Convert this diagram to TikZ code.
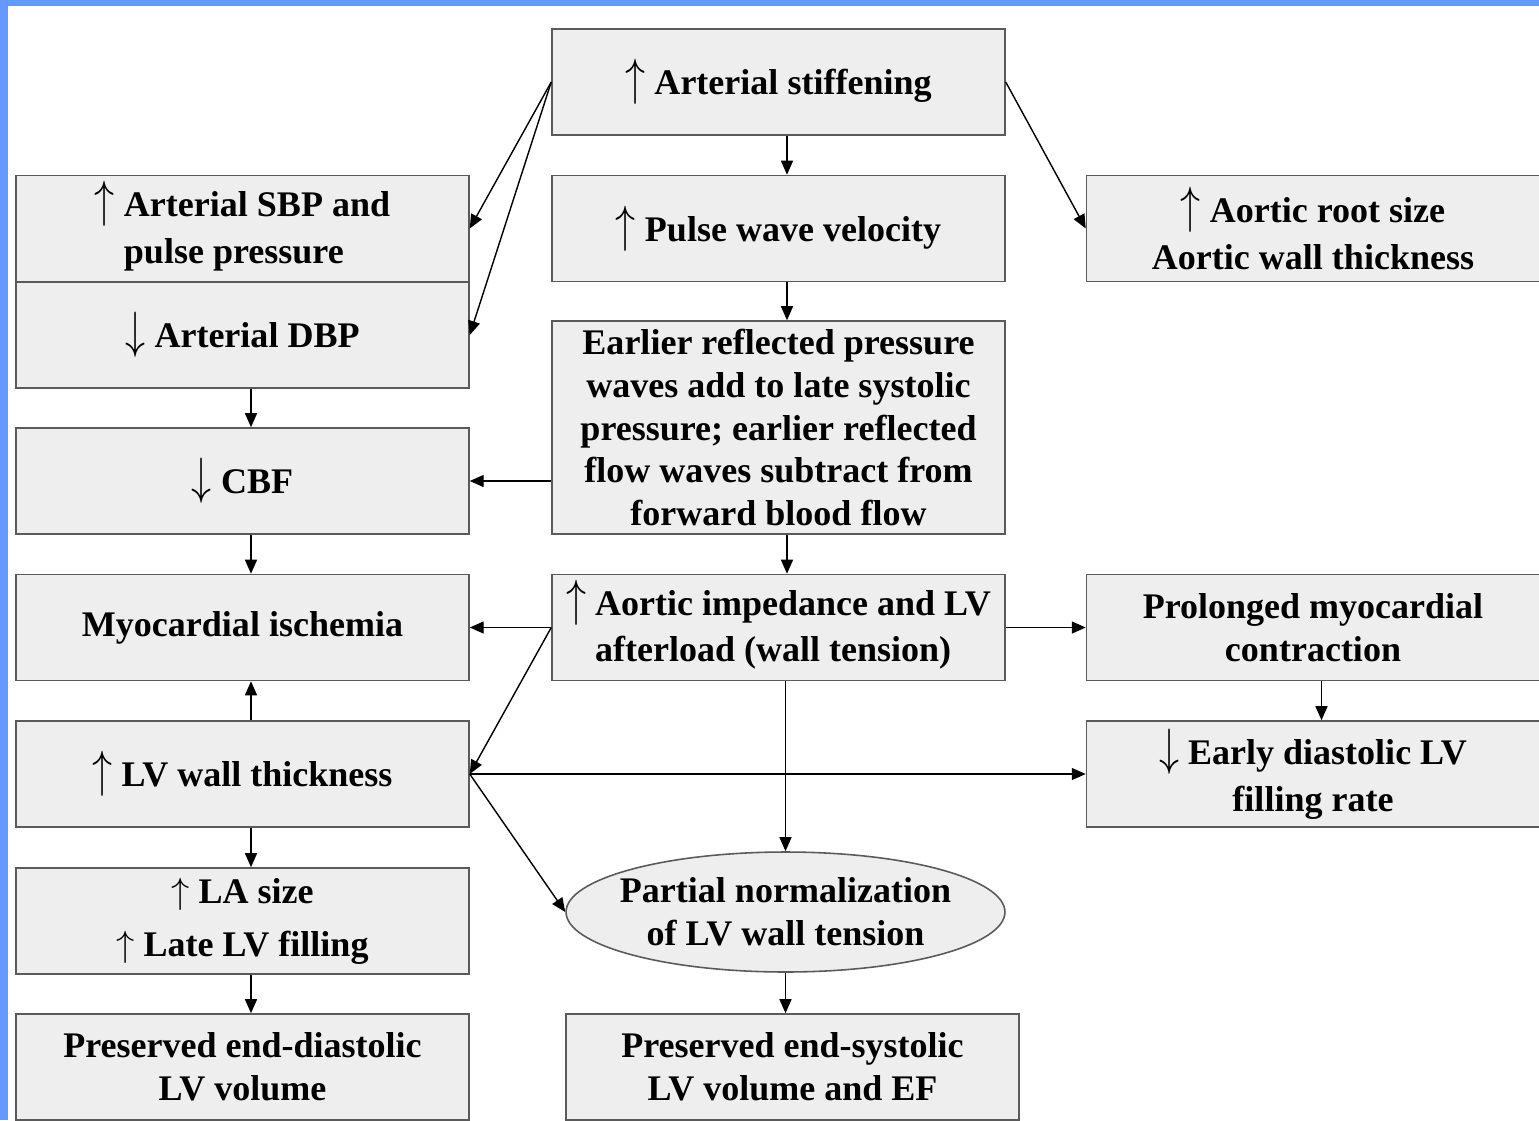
\documentclass[tikz,border=0pt]{standalone}
\usepackage{fontspec}
\setmainfont{Liberation Serif}
\usepackage{graphicx}
\usetikzlibrary{arrows.meta,shapes.geometric}
\definecolor{frameblue}{RGB}{102,153,255}
\definecolor{boxfill}{RGB}{238,238,238}
\definecolor{boxline}{RGB}{90,90,90}
\newcommand{\upar}{\scalebox{1.1}[1.4]{$\uparrow$}}
\newcommand{\downar}{\scalebox{1.1}[1.4]{$\downarrow$}}
\newcommand{\dx}{0.17cm}
\begin{document}
\begin{tikzpicture}[x=0.02cm,y=-0.02cm]
\tikzstyle{every node}+=[font=\fontsize{20.5}{24.3}\selectfont\bfseries, align=center]
\tikzstyle{box}=[draw=boxline, fill=boxfill, line width=0.9pt, minimum width=9.06cm, minimum height=2.12cm, inner sep=0pt]
\tikzstyle{oval}=[box, ellipse, minimum width=8.78cm, minimum height=2.4cm, inner sep=-0.3cm]
\tikzstyle{arr}=[line width=0.8pt, -{Triangle[length=0.28cm,width=0.24cm]}]
\path[use as bounding box] (0,0) rectangle (1539,1120);
\clip (0,0) rectangle (1539,1120);
\fill [frameblue] (0,0) rectangle (1539,1120);
\fill [white] (8,6) rectangle (1539,1120);
% top row
\node[box] (stiff) at (778.5,82) {\upar\ Arterial stiffening\rule[-6pt]{0pt}{1pt}};
\node[box] (sbp) at (242.5,228.5) {\upar\ \begin{tabular}[t]{@{}l@{}}Arterial SBP and\\[2.5pt]pulse pressure\end{tabular}};
\node[box] (dbp) at (242.5,335) {\downar\ Arterial DBP};
\node[box] (pwv) at (778.5,228.5) {\upar\ Pulse wave velocity};
\node[box] (root) at (1313,228.5) {\upar\ Aortic root size\\[2.5pt]Aortic wall thickness};
% middle
\node[box, minimum height=4.26cm] (earlier) at (778.5,427.5) {Earlier reflected pressure\\waves add to late systolic\\pressure; earlier reflected\\flow waves subtract from\\forward blood flow};
\node[box] (cbf) at (242.5,481) {\downar\ CBF};
\node[box] (myo) at (242.5,627.5) {Myocardial ischemia};
\node[box] (imp) at (778.5,627.5) {\upar\ \begin{tabular}[t]{@{}l@{}}Aortic impedance and LV\\[2pt]afterload (wall tension)\end{tabular}};
\node[box] (prol) at (1313,627.5) {Prolonged myocardial\\contraction};
\node[box] (lvw) at (242.5,774) {\upar\ LV wall thickness};
\node[box] (early) at (1313,774) {\downar\ Early diastolic LV\\[2.5pt]filling rate};
% bottom
\node[box] (la) at (242.5,921) {$\uparrow$ LA size\\[6pt]$\uparrow$ Late LV filling};
\node[oval] (part) at (785.5,912) {Partial normalization\\of LV wall tension};
\node[box] (ped) at (242.5,1067) {Preserved end-diastolic\\LV volume};
\node[box] (pes) at (792.5,1067) {Preserved end-systolic\\LV volume and EF};
% connectors
\draw [arr] (stiff.west) -- (sbp.east);
\draw [arr] (stiff.west) -- (dbp.east);
\draw [arr] (stiff.east) -- (root.west);
\draw [arr] ([xshift=\dx]stiff.south) -- ([xshift=\dx]pwv.north);
\draw [arr] ([xshift=\dx]pwv.south) -- ([xshift=\dx]earlier.north);
\draw [arr] ([xshift=\dx]dbp.south) -- ([xshift=\dx]cbf.north);
\draw [arr] (earlier.west |- cbf.east) -- (cbf.east);
\draw [arr] ([xshift=\dx]earlier.south) -- ([xshift=\dx]imp.north);
\draw [arr] ([xshift=\dx]cbf.south) -- ([xshift=\dx]myo.north);
\draw [arr] (imp.west) -- (myo.east);
\draw [arr] (imp.east) -- (prol.west);
\draw [arr] (imp.west) -- (lvw.east);
\draw [arr] ([xshift=\dx]lvw.north) -- ([xshift=\dx]myo.south);
\draw [arr] ([xshift=\dx]prol.south) -- ([xshift=\dx]early.north);
\draw [arr] (lvw.east) -- (early.west);
\draw [arr] (lvw.east) -- (part.west);
\draw [arr] (part.north |- imp.south) -- (part.north);
\draw [arr] ([xshift=\dx]lvw.south) -- ([xshift=\dx]la.north);
\draw [arr] ([xshift=\dx]la.south) -- ([xshift=\dx]ped.north);
\draw [arr] (part.south) -- (part.south |- pes.north);
\end{tikzpicture}
\end{document}
